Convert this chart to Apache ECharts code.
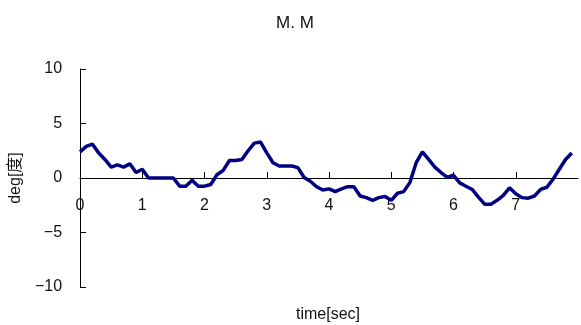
<!DOCTYPE html>
<html>
<head>
<meta charset="utf-8">
<script src="https://cdn.jsdelivr.net/npm/echarts@6/dist/echarts.min.js"></script>
<style>html,body{margin:0;padding:0;background:#fff}#c{width:581px;height:325px}</style>
</head>
<body>
<div id="c"></div>
<script>
var title = "M. M";
var xName = "time[sec]";
var yName = "deg[度]";
var times = [];
for (var i = 0; i < 80; i++) times.push(+(i * 0.1).toFixed(1));
var values = [
  2.4, 2.9, 3.1, 2.3, 1.7, 1.0, 1.2, 1.0, 1.3, 0.5,
  0.8, 0.0, 0.0, 0.0, 0.0, 0.0, -0.75, -0.75, -0.2, -0.75,
  -0.75, -0.6, 0.3, 0.7, 1.6, 1.6, 1.7, 2.5, 3.2, 3.3,
  2.3, 1.4, 1.1, 1.1, 1.1, 0.95, 0.05, -0.3, -0.8, -1.1,
  -1.0, -1.25, -1.0, -0.8, -0.8, -1.65, -1.8, -2.05, -1.8, -1.7,
  -2.05, -1.4, -1.25, -0.4, 1.4, 2.4, 1.7, 1.0, 0.5, 0.05,
  0.25, -0.45, -0.75, -1.05, -1.75, -2.4, -2.4, -2.05, -1.6, -0.9,
  -1.45, -1.8, -1.85, -1.65, -1.05, -0.85, -0.1, 0.8, 1.7, 2.3
];
var xTicks = [0, 1, 2, 3, 4, 5, 6, 7, 8];
var yTicks = [-10, -5, 0, 5, 10];

var data = times.map(function (t, i) { return [t, values[i]]; });
var font = "'Liberation Sans', Arial, sans-serif";
var cjkFont = "'Liberation Sans', 'Noto Sans CJK JP', sans-serif";
var gridTop = 69, gridBottom = 38, H = 325;
var zeroOffset = -((H - gridTop - gridBottom) / 2);
var chart = echarts.init(document.getElementById('c'), null, {renderer: 'canvas'});
chart.setOption({
  animation: false,
  backgroundColor: '#fff',
  title: {
    text: title, left: 290, top: 10, textAlign: 'center',
    textStyle: {fontSize: 17, fontWeight: 'normal', color: '#111', fontFamily: font}
  },
  graphic: [{
    type: 'text', x: 328, y: 307,
    style: {text: xName, fontSize: 16, fill: '#111', fontFamily: font, align: 'center', verticalAlign: 'top'}
  }],
  grid: {left: 80, right: 3, top: gridTop, bottom: gridBottom},
  xAxis: {
    type: 'value', min: xTicks[0], max: xTicks[xTicks.length - 1], interval: 1,
    position: 'bottom', offset: zeroOffset,
    axisLine: {show: true, onZero: false, lineStyle: {color: '#000', width: 1}},
    axisTick: {show: true, inside: true, length: 6, lineStyle: {color: '#000'}},
    axisLabel: {margin: 20, color: '#111', fontSize: 16, fontFamily: font, showMaxLabel: false},
    splitLine: {show: false}
  },
  yAxis: {
    type: 'value', min: yTicks[0], max: yTicks[yTicks.length - 1], interval: 5,
    name: yName, nameLocation: 'middle', nameGap: 56, nameRotate: 90,
    nameTextStyle: {fontSize: 16, color: '#111', fontFamily: cjkFont},
    axisLine: {show: true, onZero: false, lineStyle: {color: '#000', width: 1}},
    axisTick: {show: true, inside: true, length: 6, lineStyle: {color: '#000'}},
    axisLabel: {margin: 18, color: '#111', fontSize: 16, fontFamily: font,
      formatter: function (v) { return v < 0 ? '\u2212' + Math.abs(v) : String(v); }},
    splitLine: {show: false}
  },
  series: [{
    type: 'line', data: data, showSymbol: false, smooth: false,
    lineStyle: {color: '#000080', width: 3.5}, itemStyle: {color: '#000080'}
  }]
});
</script>
</body>
</html>
